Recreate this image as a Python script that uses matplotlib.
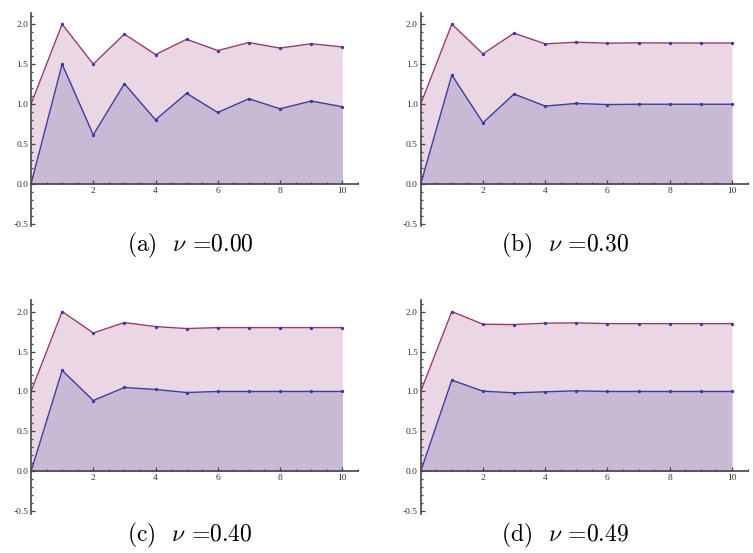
import matplotlib
matplotlib.use("Agg")
import matplotlib.pyplot as plt
from matplotlib.ticker import MultipleLocator, FixedLocator, FormatStrFormatter

plt.rcParams['mathtext.fontset'] = 'cm'

x = [0, 1, 2, 3, 4, 5, 6, 7, 8, 9, 10]

upper_a = [1.0, 2.0, 1.50, 1.875, 1.62, 1.81, 1.67, 1.77, 1.70, 1.755, 1.715]
lower_a = [0.0, 1.50, 0.615, 1.255, 0.803, 1.134, 0.895, 1.067, 0.941, 1.038, 0.967]

upper_b = [1.0, 2.0, 1.628, 1.887, 1.753, 1.774, 1.762, 1.766, 1.764, 1.764, 1.764]
lower_b = [0.0, 1.364, 0.766, 1.126, 0.975, 1.008, 0.994, 0.998, 0.998, 0.998, 0.998]

upper_c = [1.0, 2.0, 1.732, 1.862, 1.812, 1.787, 1.799, 1.799, 1.799, 1.799, 1.799]
lower_c = [0.0, 1.264, 0.887, 1.050, 1.025, 0.987, 1.0, 1.0, 1.0, 1.0, 1.0]

upper_d = [1.0, 2.0, 1.841, 1.837, 1.854, 1.858, 1.849, 1.849, 1.849, 1.849, 1.849]
lower_d = [0.0, 1.142, 1.004, 0.983, 0.996, 1.008, 1.0, 1.0, 1.0, 1.0, 1.0]

captions = [r'(a)  $\nu$ =0.00', r'(b)  $\nu$ =0.30',
            r'(c)  $\nu$ =0.40', r'(d)  $\nu$ =0.49']

panels = [(upper_a, lower_a), (upper_b, lower_b), (upper_c, lower_c), (upper_d, lower_d)]

c_up_line = '#9c3a6c'
c_lo_line = '#3c3ca4'
c_up_fill = '#ebd7e3'
c_lo_fill = '#c9b9d4'
c_marker = '#3a3aa0'
c_axis = '#444444'

fig = plt.figure(figsize=(7.53, 5.53), dpi=100)

lefts = [0.0412, 0.5587, 0.0412, 0.5587]
bottoms = [0.5906, 0.5906, 0.0709, 0.0709]
w = 0.434
h = 0.386
cap_pos = [(0.2523, 0.556), (0.7503, 0.556), (0.2523, 0.032), (0.7503, 0.032)]

for i, (up, lo) in enumerate(panels):
    ax = fig.add_axes([lefts[i], bottoms[i], w, h])
    ax.fill_between(x, 0, up, color=c_up_fill, lw=0)
    ax.fill_between(x, 0, lo, color=c_lo_fill, lw=0)
    ax.plot(x, up, color=c_up_line, lw=1.0, zorder=3)
    ax.plot(x, lo, color=c_lo_line, lw=1.0, zorder=3)
    ax.plot(x[1:], up[1:], 'o', color=c_marker, ms=2.4, zorder=4, mew=0)
    ax.plot(x[1:], lo[1:], 'o', color=c_marker, ms=2.4, zorder=4, mew=0)
    ax.set_xlim(0, 10.5)
    ax.set_ylim(-0.53, 2.14)
    for s in ['top', 'right']:
        ax.spines[s].set_visible(False)
    ax.spines['left'].set_position(('data', 0))
    ax.spines['bottom'].set_position(('data', 0))
    for s in ['left', 'bottom']:
        ax.spines[s].set_color(c_axis)
        ax.spines[s].set_linewidth(1.2)
        ax.spines[s].set_zorder(5)
    ax.patch.set_visible(False)
    ax.xaxis.set_major_locator(FixedLocator([2, 4, 6, 8, 10]))
    ax.xaxis.set_minor_locator(MultipleLocator(0.5))
    ax.yaxis.set_major_locator(FixedLocator([-0.5, 0.0, 0.5, 1.0, 1.5, 2.0]))
    ax.yaxis.set_minor_locator(MultipleLocator(0.1))
    ax.yaxis.set_major_formatter(FormatStrFormatter('%.1f'))
    ax.tick_params(which='both', direction='in', color=c_axis, labelcolor='#333333',
                   labelsize=6.8, width=0.9, pad=2)
    ax.tick_params(which='major', length=3.0)
    ax.tick_params(which='minor', length=1.5)
    for lab in ax.get_xticklabels() + ax.get_yticklabels():
        lab.set_fontfamily('Liberation Serif')
    fig.text(cap_pos[i][0], cap_pos[i][1], captions[i], ha='center', va='center',
             fontsize=17, color='black', fontfamily='cmr10')

fig.savefig('out.png', dpi=100)
